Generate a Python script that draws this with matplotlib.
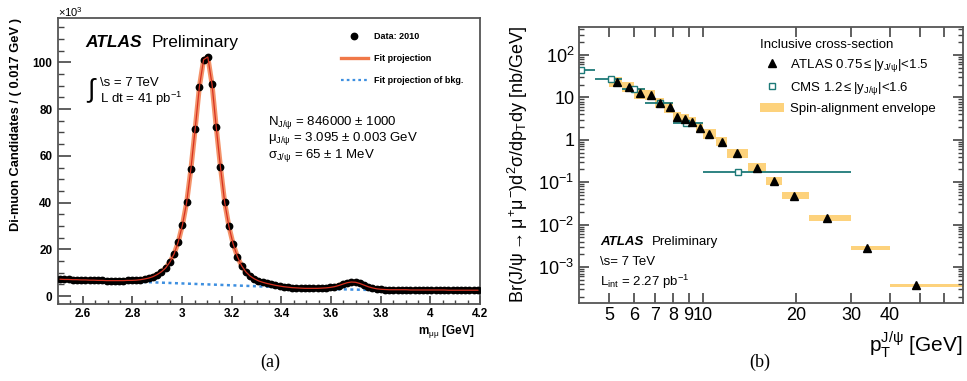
import matplotlib
matplotlib.use('Agg')
import matplotlib.pyplot as plt
from matplotlib.lines import Line2D
from matplotlib.patches import Patch
from matplotlib.ticker import MultipleLocator, LogLocator, FixedLocator, FixedFormatter, NullFormatter

plt.rcParams['font.family'] = ['Liberation Sans', 'DejaVu Sans']
plt.rcParams['mathtext.fontset'] = 'custom'
plt.rcParams['mathtext.rm'] = 'Liberation Sans'
plt.rcParams['mathtext.it'] = 'Liberation Sans'
plt.rcParams['mathtext.bf'] = 'Liberation Sans:bold'
plt.rcParams['mathtext.sf'] = 'Liberation Sans'

# ---- panel (a): di-muon mass spectrum, thousands of candidates per 0.017 GeV
bin_lo = 2.5
bin_width = 0.017
counts = [
    7.2, 7.1, 7.1, 7.0, 7.0, 6.9, 6.9, 6.8, 6.8, 6.7,
    6.7, 6.6, 6.6, 6.6, 6.6, 6.6, 6.7, 6.7, 6.8, 7.0,
    7.3, 7.7, 8.3, 9.2, 10.4, 12.0, 14.5, 18.0, 23.2, 30.5,
    40.2, 54.5, 71.5, 89.5, 101.2, 102.3, 90.6, 72.2, 55.2, 40.1,
    29.8, 22.3, 16.9, 13.0, 10.4, 8.6, 7.4, 6.5, 5.9, 5.4,
    5.0, 4.6, 4.3, 4.0, 3.8, 3.6, 3.5, 3.4, 3.3, 3.3,
    3.3, 3.3, 3.4, 3.5, 3.7, 4.0, 4.5, 5.1, 5.7, 6.0,
    5.9, 5.4, 4.7, 4.0, 3.5, 3.1, 2.9, 2.8, 2.7, 2.7,
    2.7, 2.7, 2.7, 2.6, 2.6, 2.6, 2.6, 2.6, 2.6, 2.6,
    2.6, 2.6, 2.5, 2.5, 2.5, 2.5, 2.5, 2.5, 2.5, 2.5,
]
bkg_mass = [2.5, 2.8, 3.0, 3.2, 3.4, 3.6, 3.8, 4.0, 4.2]
bkg_counts = [6.9, 6.2, 5.4, 4.6, 3.8, 3.0, 2.5, 2.3, 2.2]
mass_ticks = [2.6, 2.8, 3.0, 3.2, 3.4, 3.6, 3.8, 4.0, 4.2]
mass_labels = ['2.6', '2.8', '3', '3.2', '3.4', '3.6', '3.8', '4', '4.2']

# ---- panel (b): differential cross-section vs pT
atlas_edges = [5, 5.5, 6, 6.5, 7, 7.5, 8, 8.5, 9, 9.5, 10, 11, 12, 14, 16, 18, 22, 30, 40, 70]
atlas_pt = [5.28, 5.78, 6.26, 6.79, 7.28, 7.82, 8.27, 8.76, 9.25, 9.76,
            10.5, 11.5, 12.9, 14.96, 16.9, 19.7, 25.1, 33.8, 48.5]
atlas_xsec = [23.5, 17.9, 12.5, 11.4, 7.3, 5.9, 3.5, 3.1, 2.65, 1.95,
              1.38, 0.91, 0.48, 0.22, 0.108, 0.048, 0.0143, 0.0028, 0.00037]
atlas_env_lo = [17.5, 13.4, 9.4, 8.6, 5.5, 4.4, 2.6, 2.35, 2.0, 1.5,
                1.05, 0.70, 0.38, 0.175, 0.088, 0.040, 0.0122, 0.0025, 0.00034]
atlas_env_hi = [31, 23.5, 16.5, 15.0, 9.6, 7.8, 4.6, 4.1, 3.5, 2.55,
                1.8, 1.18, 0.61, 0.28, 0.133, 0.058, 0.0168, 0.0032, 0.0004]
cms_pt = [4.05, 5.05, 6.0, 7.3, 8.84, 13.0]
cms_lo = [3.5, 4.5, 5.5, 6.5, 8, 10]
cms_hi = [4.5, 5.5, 6.5, 8, 10, 30]
cms_xsec = [44, 27, 15.5, 7.3, 2.55, 0.173]
pt_ticks = [5, 6, 7, 8, 9, 10, 20, 30, 40]
xsec_ticks = [1e-3, 1e-2, 1e-1, 1, 10, 100]
xsec_labels = [r'$10^{-3}$', r'$10^{-2}$', r'$10^{-1}$', '1', '10', r'$10^{2}$']

W, H = 967, 381
fig = plt.figure(figsize=(W / 100, H / 100), dpi=100)
fig.patch.set_facecolor('white')

# ================= panel (a)
ax = fig.add_axes([58 / W, (H - 304) / H, 422 / W, 286 / H])
centers = [bin_lo + bin_width * (i + 0.5) for i in range(len(counts))]
ax.plot(centers, counts, color='#f4936a', lw=3.6, zorder=2, solid_capstyle='round')
ax.plot(centers, counts, 'o', color='black', ms=4.6, zorder=3)
ax.plot(centers, counts, color='#d7301f', lw=0.9, zorder=4)
ax.plot(bkg_mass, bkg_counts, color='#3d8fe0', lw=1.8, ls=(0, (1.2, 1.4)), zorder=2.5)

ax.set_xlim(2.5, 4.2)
ax.set_ylim(-3.4, 119)
ax.xaxis.set_major_locator(FixedLocator(mass_ticks))
ax.xaxis.set_major_formatter(FixedFormatter(mass_labels))
ax.xaxis.set_minor_locator(MultipleLocator(0.05))
ax.yaxis.set_major_locator(MultipleLocator(20))
ax.yaxis.set_minor_locator(MultipleLocator(5))
ax.tick_params(axis='both', which='both', direction='in', colors='#444444', labelcolor='black')
ax.tick_params(axis='y', which='major', length=9, width=1.2, labelsize=8.5, pad=4)
ax.tick_params(axis='y', which='minor', length=4, width=1.0)
ax.tick_params(axis='x', which='major', length=5.5, width=1.2, labelsize=8.5, pad=3)
ax.tick_params(axis='x', which='minor', length=2.8, width=1.0)
for lbl in ax.get_xticklabels() + ax.get_yticklabels():
    lbl.set_fontweight('bold')
for sp in ax.spines.values():
    sp.set_color('#555555')
    sp.set_linewidth(1.3)

leg_handles = [
    Line2D([], [], marker='o', color='black', ls='none', ms=4.6),
    Line2D([], [], color='#f07848', lw=2.4),
    Line2D([], [], color='#3d8fe0', lw=1.6, ls=(0, (1.2, 1.4))),
]
leg = ax.legend(leg_handles, ['Data: 2010', 'Fit projection', 'Fit projection of bkg.'],
                loc='upper left', bbox_to_anchor=(0.67, 0.95), frameon=False,
                prop={'size': 6.5, 'weight': 'bold'}, handlelength=3.0,
                labelspacing=1.45, handletextpad=0.7, borderpad=0, borderaxespad=0)

ax.text(0.066, 0.916, 'ATLAS', transform=ax.transAxes, fontsize=12.5,
        fontweight='bold', fontstyle='italic', va='center')
ax.text(0.222, 0.916, 'Preliminary', transform=ax.transAxes, fontsize=12.5, va='center')
ax.text(0.066, 0.745, r'$\int$', transform=ax.transAxes, fontsize=19, va='center')
ax.text(0.1, 0.772, '\\s = 7 TeV', transform=ax.transAxes, fontsize=9.5, va='center')
ax.text(0.1, 0.716, r'L dt = 41 pb$^{-1}$', transform=ax.transAxes, fontsize=9.5, va='center')
ax.text(0.497, 0.636, r'N$_{J/\psi}$ = 846000 $\pm$ 1000', transform=ax.transAxes,
        fontsize=9.5, va='center')
ax.text(0.497, 0.577, r'$\mu_{J/\psi}$ = 3.095 $\pm$ 0.003 GeV', transform=ax.transAxes,
        fontsize=9.5, va='center')
ax.text(0.497, 0.518, r'$\sigma_{J/\psi}$ = 65 $\pm$ 1 MeV', transform=ax.transAxes,
        fontsize=9.5, va='center')

fig.text(58 / W, (H - 12) / H, r'$\times$10$^{3}$', fontsize=8, va='center')
fig.text(16 / W, (H - 18) / H, 'Di-muon Candidates / ( 0.017 GeV )', rotation=90,
         fontsize=9.3, fontweight='bold', ha='center', va='top')
fig.text(474 / W, (H - 331) / H, r'm$_{\mu\mu}$ [GeV]', fontsize=8.5, fontweight='bold',
         ha='right', va='center')
fig.text(270 / W, (H - 362) / H, '(a)', fontsize=13, family='Liberation Serif',
         ha='center', va='center')

# ================= panel (b)
bx = fig.add_axes([579.3 / W, (H - 303.3) / H, 384 / W, 276.6 / H])
bx.set_xscale('log')
bx.set_yscale('log')
for i in range(len(atlas_pt)):
    bx.fill_between([atlas_edges[i], atlas_edges[i + 1]], atlas_env_lo[i], atlas_env_hi[i],
                    color='#fdd27c', lw=0, zorder=1)
cms_err = [[p - lo for p, lo in zip(cms_pt, cms_lo)], [hi - p for p, hi in zip(cms_pt, cms_hi)]]
bx.errorbar(cms_pt, cms_xsec, xerr=cms_err, fmt='s', mfc='white', mec='#1e7a78',
            ecolor='#1e7a78', ms=5, mew=1.0, elinewidth=1.3, capsize=0, zorder=2)
bx.plot(atlas_pt, atlas_xsec, '^', color='black', ms=6, zorder=3)

bx.set_xlim(4, 69)
bx.set_ylim(1.4e-4, 465)
bx.xaxis.set_major_locator(FixedLocator(pt_ticks))
bx.xaxis.set_major_formatter(FixedFormatter([str(t) for t in pt_ticks]))
bx.xaxis.set_minor_locator(FixedLocator([50, 60]))
bx.xaxis.set_minor_formatter(NullFormatter())
bx.yaxis.set_major_locator(FixedLocator(xsec_ticks))
bx.yaxis.set_major_formatter(FixedFormatter(xsec_labels))
bx.yaxis.set_minor_locator(LogLocator(base=10, subs=range(2, 10), numticks=20))
bx.yaxis.set_minor_formatter(NullFormatter())
bx.tick_params(axis='both', which='both', direction='in', top=True, right=True,
               colors='#444444', labelcolor='black')
bx.tick_params(axis='both', which='major', length=7, width=1.2, labelsize=13)
bx.tick_params(axis='y', which='minor', length=3.5, width=1.0)
bx.tick_params(axis='x', which='minor', length=7, width=1.2)
bx.tick_params(axis='x', which='major', pad=3)
for sp in bx.spines.values():
    sp.set_color('#555555')
    sp.set_linewidth(1.3)

bleg_handles = [
    Line2D([], [], marker='^', color='black', ls='none', ms=6),
    Line2D([], [], marker='s', mfc='white', mec='#1e7a78', ls='none', ms=5, mew=1.0),
    Patch(facecolor='#fdd27c', edgecolor='none'),
]
bleg = bx.legend(bleg_handles,
                 [r'ATLAS 0.75$\leq$|y$_{J/\psi}$|<1.5', r'CMS 1.2$\leq$|y$_{J/\psi}$|<1.6',
                  'Spin-alignment envelope'],
                 title='Inclusive cross-section', loc='upper left',
                 bbox_to_anchor=(0.47, 0.955), frameon=False, fontsize=9.5,
                 title_fontsize=9.5, alignment='left', handlelength=1.8,
                 handletextpad=0.5, labelspacing=0.45, borderpad=0, borderaxespad=0)

bx.text(0.055, 0.223, 'ATLAS', transform=bx.transAxes, fontsize=9.5, fontweight='bold',
        fontstyle='italic', va='center')
bx.text(0.19, 0.223, 'Preliminary', transform=bx.transAxes, fontsize=9.5, va='center')
bx.text(0.055, 0.150, '\\s= 7 TeV', transform=bx.transAxes, fontsize=9.5, va='center')
bx.text(0.055, 0.078, r'L$_{int}$ = 2.27 pb$^{-1}$', transform=bx.transAxes, fontsize=9.5,
        va='center')

bx.set_ylabel(r'Br(J/$\psi\rightarrow\mu^{+}\mu^{-}$)d$^{2}\sigma$/dp$_{T}$dy [nb/GeV]',
              fontsize=13, labelpad=6)
fig.text(963 / W, (H - 345) / H, r'p$_{T}^{J/\psi}$ [GeV]', fontsize=15, ha='right', va='center')
fig.text(760 / W, (H - 362) / H, '(b)', fontsize=13, family='Liberation Serif',
         ha='center', va='center')

fig.savefig('out.png', dpi=100)
